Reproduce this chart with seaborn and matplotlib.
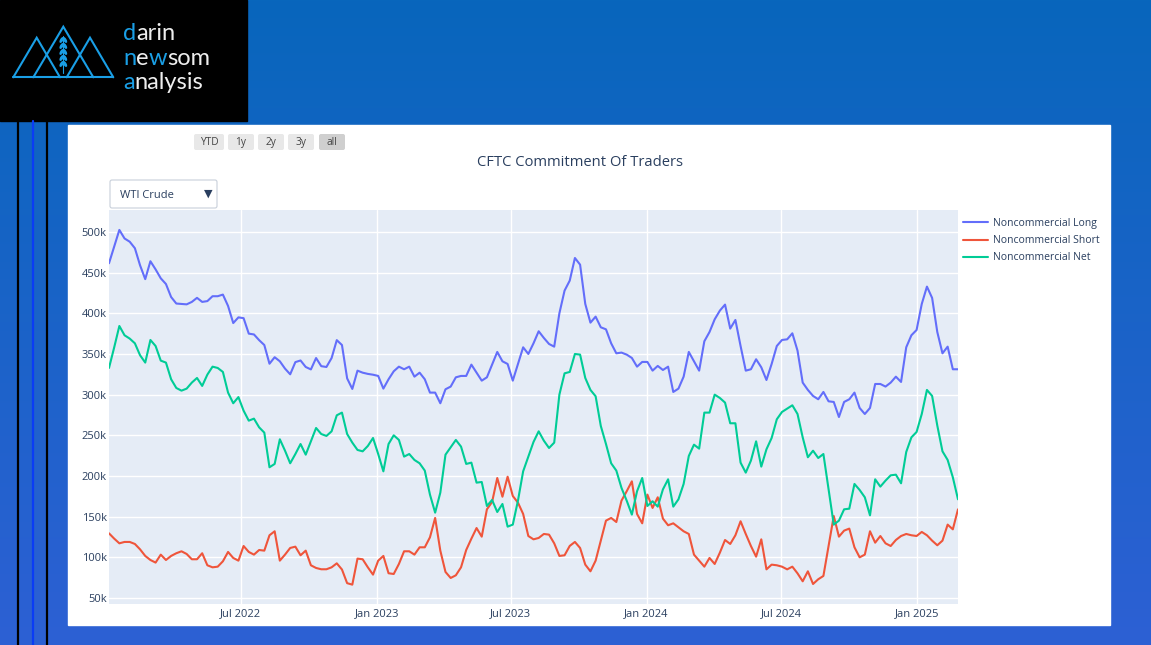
import numpy as np
import pandas as pd
import matplotlib
matplotlib.use("Agg")
import matplotlib.pyplot as plt
import matplotlib.colors as mcolors
from matplotlib.patches import Rectangle, FancyBboxPatch, Ellipse
from matplotlib.lines import Line2D
import seaborn as sns

# weekly CFTC report dates (Tuesdays)
start_date = "2022-01-04"
end_date = "2025-02-25"

# values in thousands of contracts
noncomm_long = [
    461.5, 482, 502.5, 492, 488, 480, 459, 442, 464, 454, 443, 436, 420, 412, 411.5, 411,
    414, 419, 414, 415, 421, 421, 423, 409, 388, 395, 394, 375, 374, 367, 361, 338,
    346, 341, 332, 325, 340, 342, 334, 331, 345, 335, 334, 345, 367, 361, 320, 307,
    329.5, 327, 325.5, 324.5, 323, 307.4, 318.9, 328.7, 334.4, 331.2, 334.4, 322.1, 327, 318.9,
    302.5, 302.5, 289.4, 306.6, 309.9, 321.3, 323, 323, 336.9, 327, 317.2, 321.3, 336.9, 352.5,
    341, 337.7, 317.2, 337.7, 358.2, 350, 363.1, 377.9, 369.7, 362.3, 359, 400, 427.9, 440.2,
    468, 459.8, 411.5, 388.5, 395.9, 382.8, 380.3, 363.1, 350.8, 351.7, 349.2, 345.1, 334.4,
    340.2, 340.2, 329.5, 335.3, 330.3, 334.4, 303.3, 307.4, 322.1, 352.5, 341, 329.5, 365.6,
    377, 392.6, 403.3, 410.7, 381.2, 391.8, 359.8, 329.5, 331.2, 343.5, 333.6, 318, 337.7,
    359.8, 367.2, 368, 375.4, 354.1, 314.8, 305.8, 298.4, 294.3, 303.3, 291.8, 291, 272.5,
    291, 294.3, 302.5, 283.6, 276.2, 283.6, 313.1, 313.1, 309.9, 314.8, 322.1, 315.6, 358.2,
    373, 379.5, 411.5, 432.8, 418.9, 377, 350.8, 359, 331.2, 331.2,
]
noncomm_short = [
    129.5, 123, 117.2, 118.9, 118.9, 116.4, 109.8, 101.7, 96.7, 93.5, 103.3, 96.7, 101.7, 105,
    107.4, 104.1, 97.6, 97.6, 105, 90.2, 87.7, 88.5, 95.1, 106.6, 99.2, 95.9, 113.9, 106.6,
    103.3, 109, 108.2, 127.1, 132, 95.9, 103.3, 111.5, 113.1, 102.5, 108.2, 90.2, 86.9, 85.3,
    85.3, 87.7, 92.6, 85, 68.2, 66.4, 98.4, 97.6, 87.7, 78.7, 95.9, 101.7, 80.4, 79.5, 91.8,
    107.4, 107.4, 103.3, 112.3, 112.3, 124.6, 148.4, 108.2, 82, 74.6, 77.9, 87.7, 109, 122.9,
    136, 125.4, 159, 168, 197.5, 174.5, 199.1, 175.4, 167.2, 153.3, 126.2, 122.1, 123.8, 128.7,
    127.9, 117.2, 101.7, 102.5, 114, 118.9, 111.5, 91, 82.8, 95.9, 120.5, 145.1, 148.4, 143.4,
    169.7, 181.2, 193.4, 153.3, 141.8, 177.1, 160.7, 173.8, 147.6, 139.4, 141.8, 136.9, 132,
    128.7, 103.3, 95.9, 88.5, 99.2, 91.8, 105.7, 121.3, 116.4, 127.1, 144.3, 128.7, 113.9,
    100.8, 122.1, 85.2, 91, 90.2, 88.5, 85.2, 88.5, 80.3, 70.5, 82.8, 67.2, 73, 77.1, 113.9,
    150.8, 125.4, 132.8, 135.3, 112.3, 100, 103.3, 132, 118, 126.2, 117.2, 113.9, 121.3, 126.2,
    128.7, 127.1, 126.2, 131.2, 127.1, 120.5, 114.8, 120.5, 140.2, 134.4, 159,
]
noncomm_net = [
    332.8, 358, 384.4, 373, 368.9, 363.1, 348.4, 339.4, 367.2, 359.8, 341.8, 339.4, 318.9, 308.2,
    304.9, 307.4, 314.8, 320.5, 310.7, 324.6, 334.4, 332.8, 327.9, 302.5, 289.4, 297, 280.3, 268,
    270.5, 259.8, 253.3, 210.7, 214.8, 245.1, 231.1, 215.6, 227, 239.3, 226.2, 242.6, 259, 251.6,
    249.2, 254.9, 274.6, 277.9, 251.6, 241, 232, 230.3, 236.9, 246.7, 227, 205.7, 239.3, 250,
    244.3, 223.8, 227, 219.7, 215.6, 206.6, 177.1, 154.9, 179.5, 226.2, 235.2, 244.3, 236.1,
    214.8, 216.4, 191.8, 192.6, 163.1, 170.5, 155.7, 165.6, 137.7, 140.2, 169.7, 205.7, 223.8,
    241.8, 254.9, 243.4, 234.4, 241, 300, 326.2, 327.9, 350, 349.2, 320.5, 305.8, 298, 261.5,
    239.3, 215.6, 206.6, 185.3, 169.7, 152.5, 181.2, 197.5, 163.1, 168.9, 162.3, 183.5, 195.9,
    162.3, 171.3, 190.2, 224.6, 238.5, 233.6, 277.9, 277.9, 300, 295.9, 290.2, 264.8, 264.8,
    216.4, 204.1, 218.9, 242.6, 211.5, 232.8, 246.7, 269.7, 278.7, 282.8, 286.9, 276.2, 247.5,
    223, 231.1, 222.1, 227, 183.6, 140.2, 145.1, 159, 159.8, 190.2, 182.8, 173.8, 151.6, 195.9,
    186.9, 194.3, 200.8, 201.6, 191, 229.5, 247.5, 254.1, 276.2, 305.8, 298.4, 262, 230.3,
    219.7, 198.4, 171.3,
]

series_names = ["Noncommercial Long", "Noncommercial Short", "Noncommercial Net"]
series_colors = ["#636EFA", "#EF553B", "#00CC96"]

y_ticks = [50000, 100000, 150000, 200000, 250000, 300000, 350000, 400000, 450000, 500000]
x_tick_dates = ["2022-07-01", "2023-01-01", "2023-07-01", "2024-01-01", "2024-07-01", "2025-01-01"]
x_tick_labels = ["Jul 2022", "Jan 2023", "Jul 2023", "Jan 2024", "Jul 2024", "Jan 2025"]
buttons = ["YTD", "1y", "2y", "3y", "all"]
menu_label = "WTI Crude"
title = "CFTC Commitment Of Traders"

dates = pd.date_range(start_date, end_date, freq="W-TUE")
wide = pd.DataFrame({
    "date": dates,
    series_names[0]: np.array(noncomm_long) * 1000,
    series_names[1]: np.array(noncomm_short) * 1000,
    series_names[2]: np.array(noncomm_net) * 1000,
})
df = wide.melt(id_vars="date", var_name="series", value_name="value")

sns.set_style("darkgrid", {"axes.facecolor": "#E5ECF6", "grid.color": "white"})
plt.rcParams["font.family"] = ["Open Sans", "DejaVu Sans"]

W, H = 1151, 645
fig = plt.figure(figsize=(W / 100, H / 100), dpi=100)

# page background in pixel coordinates
bg = fig.add_axes([0, 0, 1, 1])
bg.set_xlim(0, W)
bg.set_ylim(H, 0)
bg.axis("off")
cmap = mcolors.LinearSegmentedColormap.from_list("page", ["#0866bc", "#2d60d4"])
bg.imshow(np.linspace(0, 1, 256).reshape(-1, 1), extent=[0, W, H, 0], aspect="auto",
          cmap=cmap, zorder=0)
bg.add_patch(Rectangle((0, 0), 247, 121, color="black", zorder=1))
for x, c in [(18, "black"), (33, "#0a3cf5"), (47, "black")]:
    bg.plot([x, x], [121, H], color=c, lw=1.6, zorder=1)
bg.add_patch(Rectangle((68, 125), 1042, 500, color="white", zorder=1))

# logo
logo_blue = "#1a9fe6"
tris = [[(13.3, 77.3), (36.7, 37.7), (60, 77.3)],
        [(33.3, 77.3), (63.3, 26.7), (93.3, 77.3)],
        [(66.7, 77.3), (90, 37.7), (113.3, 77.3)]]
for t in tris:
    bg.plot([p[0] for p in t], [p[1] for p in t], color=logo_blue, lw=1.5, zorder=2,
            solid_joinstyle="miter")
bg.plot([13.3, 113.3], [77.3, 77.3], color=logo_blue, lw=1.5, zorder=2)
bg.plot([63.3, 63.3], [36, 73], color=logo_blue, lw=0.8, zorder=2)
for yy in (40, 46, 52, 58, 64):
    bg.add_patch(Ellipse((61.6, yy), 1.8, 5, angle=30, color=logo_blue, zorder=2))
    bg.add_patch(Ellipse((65.0, yy), 1.8, 5, angle=-30, color=logo_blue, zorder=2))


def colored_word(x, y, parts):
    prev = bg.text(x, y, parts[0][0], color=parts[0][1], fontsize=17, va="bottom",
                   ha="left", family="Lato", zorder=3)
    for s, c in parts[1:]:
        prev = bg.annotate(s, xy=(1, 0), xycoords=prev, color=c, fontsize=17, va="bottom",
                           ha="left", family="Lato", zorder=3)


white = "#eeeeee"
colored_word(123, 44, [("d", logo_blue), ("arin", white)])
colored_word(123, 69, [("n", logo_blue), ("e", white), ("w", logo_blue), ("som", white)])
colored_word(123, 93, [("a", logo_blue), ("nalysis", white)])

# range selector buttons
btn_x = [(194, 224), (228, 254), (258, 284), (288, 314), (319, 345)]
for (x0, x1), lab in zip(btn_x, buttons):
    fc = "#cfcfcf" if lab == "all" else "#e8e8e8"
    bg.add_patch(FancyBboxPatch((x0, 134), x1 - x0, 16, boxstyle="round,pad=0,rounding_size=2",
                                fc=fc, ec="none", zorder=2))
    bg.text((x0 + x1) / 2, 142.5, lab, ha="center", va="center", fontsize=7.3, color="#444444",
            zorder=3)

# dropdown menu
bg.add_patch(FancyBboxPatch((110, 180), 107, 28, boxstyle="round,pad=0,rounding_size=2",
                            fc="white", ec="#c8cfda", lw=0.8, zorder=2))
bg.text(120, 195, menu_label, ha="left", va="center", fontsize=8, color="#2a3f5f", zorder=3)
bg.text(208, 193.5, "\u25bc", ha="center", va="center", fontsize=8, color="#2a3f5f",
        family=["DejaVu Sans"], zorder=3)

bg.text(580, 162.5, title, ha="center", va="center", fontsize=10.6, color="#2a3f5f", zorder=3)

# main chart
left, right, top, bottom = 109, 958, 210, 604
ax = fig.add_axes([left / W, 1 - bottom / H, (right - left) / W, (bottom - top) / H])
sns.lineplot(data=df, x="date", y="value", hue="series", hue_order=series_names,
             palette=series_colors, linewidth=1.5, ax=ax, legend=False)
ax.set_xlim(dates[0], dates[-1])
ax.set_ylim(42600, 527000)
ax.set_yticks(y_ticks)
ax.set_yticklabels([f"{int(v / 1000)}k" for v in y_ticks])
ax.set_xticks(pd.to_datetime(x_tick_dates))
ax.set_xticklabels(x_tick_labels)
ax.set_xlabel("")
ax.set_ylabel("")
ax.grid(True, color="white", lw=1)
for s in ax.spines.values():
    s.set_visible(False)
ax.tick_params(length=0, labelsize=8, labelcolor="#2a3f5f")
ax.tick_params(axis="y", pad=1.5)
ax.tick_params(axis="x", pad=3)

handles = [Line2D([], [], color=c, lw=1.5) for c in series_colors]
leg = ax.legend(handles, series_names, loc="upper left",
                bbox_to_anchor=(963 / W, 1 - 218 / H), bbox_transform=fig.transFigure,
                frameon=False, fontsize=7.5, handlelength=2.4, handletextpad=0.45,
                borderpad=0, borderaxespad=0, labelspacing=0.6)
for t in leg.get_texts():
    t.set_color("#2a3f5f")

fig.savefig("out.png", dpi=100)
plt.close(fig)
